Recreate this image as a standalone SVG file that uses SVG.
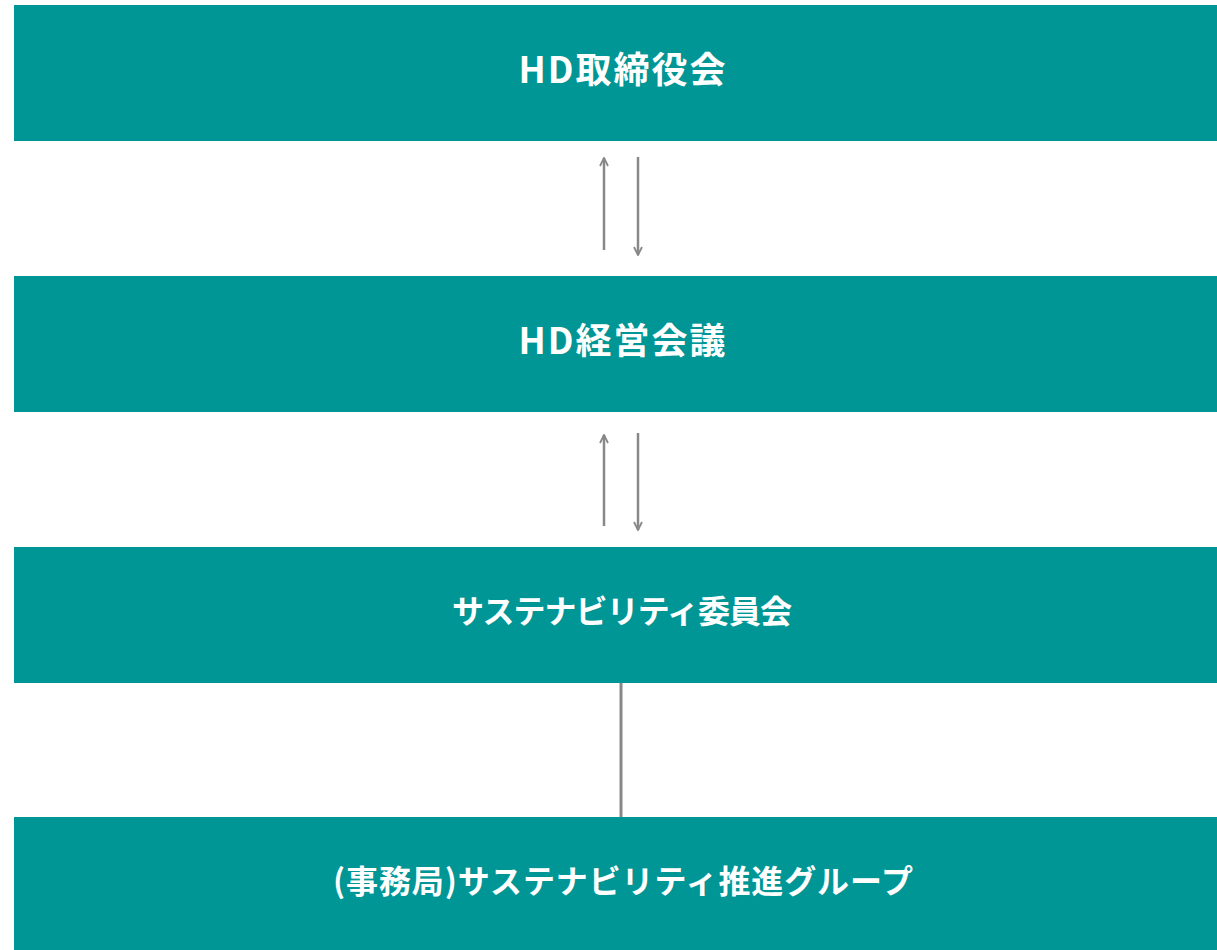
<svg xmlns="http://www.w3.org/2000/svg" width="1217" height="950" viewBox="0 0 1217 950">
<style>
.box{fill:#009696}
.lbl{fill:#ffffff;font-family:"Noto Sans CJK JP","Liberation Sans",sans-serif;font-weight:bold;font-size:32px;text-anchor:middle;dominant-baseline:central}
.hd{font-size:36px}
.ln{stroke:#888888;stroke-width:2.5;fill:none}
</style>
<defs>
<marker id="ah" viewBox="0 0 10 10" refX="9" refY="5" markerWidth="4" markerHeight="4" orient="auto" markerUnits="strokeWidth">
<path d="M1,1 L9,5 L1,9" fill="none" stroke="#888888" stroke-width="1.8"/>
</marker>
</defs>
<rect width="1217" height="950" fill="#ffffff"/>
<g id="node-board"><rect class="box" x="14" y="5" width="1203" height="136"/><text class="lbl hd" x="622" y="67" textLength="207" lengthAdjust="spacing">HD取締役会</text></g>
<g id="node-mgmt"><rect class="box" x="14" y="276" width="1203" height="136"/><text class="lbl hd" x="622" y="338" textLength="207" lengthAdjust="spacing">HD経営会議</text></g>
<g id="node-committee"><rect class="box" x="14" y="547" width="1203" height="136"/><text class="lbl" x="622" y="609" textLength="340" lengthAdjust="spacing">サステナビリティ委員会</text></g>
<g id="node-group"><rect class="box" x="14" y="817" width="1203" height="133"/><text class="lbl" x="623" y="879" textLength="580" lengthAdjust="spacing">(事務局)サステナビリティ推進グループ</text></g>
<g id="connectors">
<line class="ln" x1="604" y1="250" x2="604" y2="158" marker-end="url(#ah)"/>
<line class="ln" x1="638" y1="157" x2="638" y2="255" marker-end="url(#ah)"/>
<line class="ln" x1="604" y1="526" x2="604" y2="435" marker-end="url(#ah)"/>
<line class="ln" x1="638" y1="433" x2="638" y2="530" marker-end="url(#ah)"/>
<line class="ln" x1="621" y1="683" x2="621" y2="817" style="stroke-width:3"/>
</g>
</svg>
